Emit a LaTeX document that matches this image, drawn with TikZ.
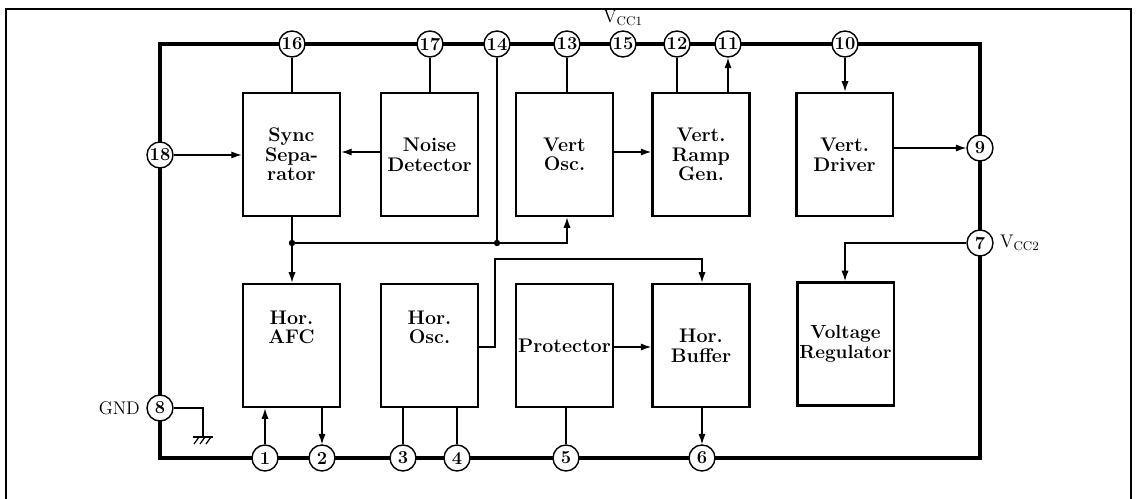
\documentclass[tikz,border=0pt]{standalone}
\usepackage{tikz}
\usetikzlibrary{arrows.meta,positioning,calc}
\tikzset{
    block/.style={rectangle, draw, line width=2pt, text width=2.35cm, minimum height=3.075cm, align=center, inner sep=1pt, font=\fontsize{14}{14}\selectfont\bfseries, fill=white},
    term/.style={circle, draw, line width=1pt, fill=white, inner sep=0pt, minimum size=0.65cm, font=\fontsize{13}{13}\selectfont\bfseries},
    bus/.style={line width=2.8pt, line join=miter},
    wire/.style={line width=0.9pt},
    sig/.style={-{Latex[length=2.6mm,width=1.8mm]}, line width=0.9pt},
    jdot/.style={circle, fill, inner sep=0pt, minimum size=1.6mm},
    lbl/.style={font=\fontsize{13}{13}\selectfont},
}
\begin{document}
\begin{tikzpicture}[x=0.025cm, y=-0.025cm]
    \useasboundingbox (0,0) rectangle (1136,499);
    % outer frame
    \draw[line width=1.3pt] (6,499) |- (1131,9) -- (1131,499);
    % package outline
    \coordinate (tl) at (160,44);
    \coordinate (br) at (980,458);
    \draw[bus] (tl) rectangle (br);

    % blocks, upper row
    \node[block] (sync)  at (291.5,154.5) {Sync\\Sepa-\\rator};
    \node[block] (noise) at (429.5,154.5) {Noise\\Detector};
    \node[block] (vosc)  at (564.5,154.5) {Vert\\Osc.};
    \node[block] (ramp)  at (701,154.5) {Vert.\\Ramp\\Gen.};
    \node[block] (vdrv)  at (844.5,154.5) {Vert.\\Driver};
    % blocks, lower row
    \node[block] (afc)   at (291.5,345.5) {Hor.\\AFC\\[12pt]\mbox{}};
    \node[block] (hosc)  at (429.5,345.5) {Hor.\\Osc.\\[12pt]\mbox{}};
    \node[block] (prot)  at (564.5,345.5) {Protector};
    \node[block] (hbuf)  at (701,345.5) {Hor.\\Buffer};
    \node[block, font=\fontsize{13.5}{14}\selectfont\bfseries] (vreg) at (845.5,344) {Voltage\\Regulator};

    % pins
    \node[term] (p16) at (292,44) {16};
    \node[term] (p17) at (430,44) {17};
    \node[term] (p14) at (497,44) {14};
    \node[term] (p13) at (567,44) {13};
    \node[term] (p15) at (623,44) {15};
    \node[term] (p12) at (677,44) {12};
    \node[term] (p11) at (728,44) {11};
    \node[term] (p10) at (845,44) {10};
    \node[term] (p18) at (160,155) {18};
    \node[term] (p8)  at (160,408) {8};
    \node[term] (p9)  at (980,148) {9};
    \node[term] (p7)  at (980,243) {7};
    \node[term] (p1)  at (265,458) {1};
    \node[term] (p2)  at (322,458) {2};
    \node[term] (p3)  at (403,458) {3};
    \node[term] (p4)  at (457,458) {4};
    \node[term] (p5)  at (566,458) {5};
    \node[term] (p6)  at (702,458) {6};

    \node[lbl, above=0pt of p15] {V$_{\mathrm{CC1}}$};
    \node[lbl, right=1pt of p7] {V$_{\mathrm{CC2}}$};
    \node[lbl, left=1pt of p8] {GND};

    % top pins
    \draw[wire] (p16) -- (sync.north -| p16);
    \draw[wire] (p17) -- (noise.north -| p17);
    \draw[wire] (p13) -- (vosc.north -| p13);
    \draw[wire] (p12) -- (ramp.north -| p12);
    \draw[sig] (ramp.north -| p11) -- (p11);
    \draw[sig] (p10) -- (vdrv.north -| p10);

    % upper row signals
    \draw[sig] (p18) -- (sync.west |- p18);
    \draw[sig] (noise.west |- 0,152) -- (sync.east |- 0,152);
    \draw[sig] (vosc.east |- 0,152) -- (ramp.west |- 0,152);
    \draw[sig] (vdrv.east |- p9) -- (p9);

    % sync bus
    \coordinate (jn) at (292,243);
    \node[jdot] (j1) at (jn) {};
    \node[jdot] (j2) at (497,243) {};
    \draw[wire] (sync.south -| jn) -- (j1);
    \draw[sig] (j1) -- (afc.north -| j1);
    \draw[wire] (j1) -- (j2);
    \draw[wire] (p14) -- (j2);
    \draw[sig] (j2) -| (vosc.south -| 567,0);

    % lower row signals
    \coordinate (hk) at (495,259);
    \draw[sig] (hosc.east |- 0,347) -| (hk) -| (hbuf.north -| p6);
    \draw[sig] (prot.east |- 0,347) -- (hbuf.west |- 0,347);
    \draw[sig] (p7) -| (vreg.north -| p10);

    % bottom pins
    \draw[sig] (p1) -- (afc.south -| p1);
    \draw[sig] (afc.south -| p2) -- (p2);
    \draw[wire] (hosc.south -| p3) -- (p3);
    \draw[wire] (hosc.south -| p4) -- (p4);
    \draw[wire] (prot.south -| p5) -- (p5);
    \draw[sig] (hbuf.south -| p6) -- (p6);

    % ground
    \coordinate (gnd) at (203,437);
    \draw[wire] (p8) -| (gnd);
    \draw[wire] (193,437) -- (213,437);
    \foreach \gx in {199,205,211}
        \draw[wire] (\gx,437) -- ++(-5,7);
\end{tikzpicture}
\end{document}
